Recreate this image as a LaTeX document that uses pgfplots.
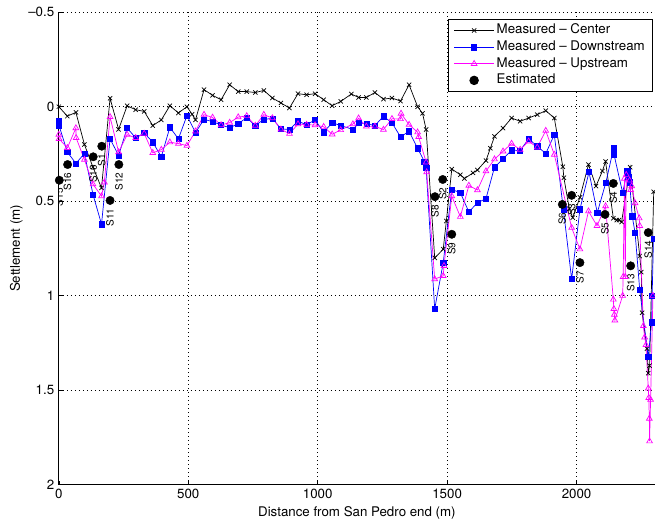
\documentclass[border=0pt]{standalone}
\usepackage{fontspec}
\setmainfont{TeX Gyre Heros}
\usepackage{pgfplots}
\usepackage{pgfplotstable}
\pgfplotsset{compat=1.18}
\definecolor{mblue}{rgb}{0,0,1}
\definecolor{mmag}{rgb}{1,0,1}

% Settlement along the alignment, measured at three lines of stations
\pgfplotstableread{
x y
0 0.00
33 0.05
66 0.03
99 0.20
132 0.32
165 0.43
198 -0.045
231 0.12
264 -0.005
297 0.016
330 0.025
363 0.10
396 0.07
429 -0.005
462 0.033
495 0.0
515 0.04
528 0.07
561 -0.09
594 -0.06
627 -0.037
660 -0.116
693 -0.08
726 -0.08
759 -0.075
792 -0.086
825 -0.046
858 -0.02
891 0.007
924 -0.069
957 -0.063
990 -0.069
1023 -0.037
1056 -0.005
1089 -0.028
1130 -0.067
1158 -0.049
1188 -0.049
1221 -0.075
1254 -0.04
1287 -0.046
1320 -0.03
1353 -0.116
1386 0.0
1405 0.035
1419 0.121
1452 0.80
1485 0.754
1497 0.605
1518 0.33
1551 0.36
1567 0.38
1600 0.35
1617 0.335
1650 0.285
1667 0.22
1683 0.157
1716 0.113
1749 0.06
1782 0.077
1815 0.06
1848 0.042
1881 0.021
1914 0.06
1947 0.318
1951 0.376
1972 0.54
1985 0.587
2013 0.48
2046 0.306
2075 0.42
2100 0.34
2112 0.29
2142 0.59
2155 0.60
2164 0.60
2174 0.61
2207 0.32
2244 0.79
2250 0.875
2253 1.09
2272 1.28
2277 1.41
2282 1.37
2298 0.45
}\center

\pgfplotstableread{
x y
0 0.077
1 0.10
33 0.24
66 0.30
99 0.248
132 0.464
165 0.622
198 0.17
231 0.258
264 0.113
297 0.165
330 0.139
363 0.188
396 0.265
429 0.109
462 0.17
495 0.047
528 0.137
561 0.067
594 0.079
627 0.097
660 0.111
693 0.09
726 0.058
759 0.10
792 0.067
825 0.062
858 0.117
891 0.121
924 0.077
957 0.095
990 0.07
1023 0.135
1056 0.085
1089 0.10
1136 0.12
1160 0.086
1188 0.09
1221 0.10
1254 0.051
1287 0.085
1320 0.16
1353 0.13
1386 0.22
1412 0.29
1419 0.325
1452 1.07
1485 0.825
1518 0.438
1551 0.455
1584 0.557
1617 0.508
1650 0.487
1683 0.32
1716 0.276
1749 0.23
1782 0.232
1815 0.17
1848 0.209
1881 0.248
1914 0.148
1949 0.543
1981 0.912
2013 0.543
2048 0.346
2080 0.561
2113 0.402
2143 0.22
2145 0.255
2178 0.455
2196 0.34
2200 0.37
2205 0.40
2215 0.58
2226 0.666
2244 0.97
2277 1.325
2290 1.14
2292 1.0
2297 0.7
}\downstream

\pgfplotstableread{
x y
0 0.148
1 0.17
33 0.218
66 0.113
67 0.165
99 0.28
132 0.41
165 0.473
176 0.40
198 0.054
231 0.24
264 0.148
297 0.165
330 0.142
363 0.244
396 0.227
429 0.188
462 0.195
495 0.206
528 0.13
561 0.042
594 0.057
627 0.097
660 0.084
693 0.055
726 0.049
759 0.10
792 0.042
825 0.06
858 0.12
891 0.143
924 0.092
957 0.095
990 0.097
1023 0.106
1056 0.146
1089 0.123
1136 0.092
1158 0.061
1188 0.104
1221 0.104
1254 0.121
1287 0.064
1320 0.065
1322 0.036
1353 0.095
1386 0.135
1390 0.16
1419 0.294
1421 0.346
1452 0.912
1485 0.895
1488 0.842
1518 0.473
1551 0.582
1584 0.417
1617 0.441
1650 0.341
1683 0.278
1716 0.236
1749 0.195
1782 0.227
1815 0.183
1848 0.215
1881 0.127
1914 0.253
1981 0.64
2013 0.754
2046 0.553
2079 0.63
2112 0.526
2142 1.02
2144 1.07
2146 1.10
2148 1.13
2178 1.0
2180 0.9
2185 0.38
2188 0.9
2192 0.36
2205 0.39
2209 0.44
2213 0.42
2226 0.51
2242 0.59
2244 0.63
2258 1.16
2263 1.22
2268 1.26
2277 1.49
2279 1.54
2281 1.65
2282 1.77
2286 1.55
2295 1.0
}\upstream

\pgfplotstableread{
x y
2 0.389
34 0.306
133 0.265
166 0.209
198 0.496
232 0.306
1453 0.476
1483 0.385
1518 0.675
1945 0.517
1981 0.469
2013 0.825
2110 0.57
2142 0.406
2209 0.842
2277 0.666
}\estimated

\newcommand{\slab}[3]{\node[rotate=90, anchor=east, inner xsep=8bp, inner ysep=0pt,
  font=\fontsize{10bp}{12bp}\selectfont] at (axis cs:#1,#2) {#3};}

\begin{document}
\fontsize{13.3bp}{16bp}\selectfont
\begin{tikzpicture}
\useasboundingbox (0,0) rectangle (655bp,523bp);
\begin{axis}[
  at={(58.8bp,38.3bp)}, anchor=south west,
  scale only axis, width=596.2bp, height=472.5bp,
  xmin=0, xmax=2303, ymin=-0.5, ymax=2, y dir=reverse,
  axis x line*=bottom, axis y line*=left,
  xtick={0,500,1000,1500,2000}, xticklabels={0,500,1000,1500,2000},
  ytick={-0.5,0,0.5,1,1.5,2}, yticklabels={–0.5,0,0.5,1,1.5,2},
  tick align=inside, major tick length=4bp,
  tick style={black, line width=0.6bp},
  grid=major,
  grid style={black, line width=0.8bp, dash pattern=on 0.8bp off 3.2bp},
  axis line style={black, line width=0.8bp},
  ticklabel style={font=\fontsize{13.3bp}{16bp}\selectfont},
  xlabel={Distance from San Pedro end (m)},
  ylabel={Settlement (m)},
  label style={font=\fontsize{13.3bp}{16bp}\selectfont},
  xlabel style={at={(axis description cs:0.5,-0.0673)}, anchor=base},
  ylabel style={at={(axis description cs:-0.0651,0.5)}, anchor=base},
  legend image code/.code={\draw[mark repeat=2, mark phase=2]
    plot coordinates {(0bp,0bp) (20bp,0bp) (40bp,0bp)};},
  legend cell align=left,
  legend style={at={(0.9966,0.985)}, anchor=north east, draw=black,
    line width=1bp, fill=white, inner xsep=5.5bp, inner ysep=2.5bp,
    row sep=0pt,
    nodes={inner xsep=2.2bp, inner ysep=2bp, text height=9.6bp, text depth=3bp,
      font=\fontsize{13.3bp}{16bp}\selectfont}},
]
\addplot[black, line width=0.7bp, mark=x, mark size=3bp,
  mark options={solid, line width=0.7bp}] table {\center};
\addlegendentry{Measured – Center}
\addplot[mblue, line width=0.7bp, mark=square*, mark size=2.6bp,
  mark options={solid, fill=mblue, line width=0.5bp}] table {\downstream};
\addlegendentry{Measured – Downstream}
\addplot[mmag, line width=0.7bp, mark=triangle, mark size=3.3bp,
  mark options={solid, line width=0.7bp}] table {\upstream};
\addlegendentry{Measured – Upstream}
\addplot[black, only marks, mark=*, mark size=4.2bp] table {\estimated};
\addlegendentry{Estimated}

\slab{2}{0.389}{S15}
\slab{34}{0.306}{S16}
\slab{133}{0.265}{S10}
\slab{166}{0.209}{S1}
\slab{198}{0.496}{S11}
\slab{232}{0.306}{S12}
\slab{1453}{0.476}{S8}
\slab{1483}{0.385}{S2}
\slab{1518}{0.675}{S9}
\slab{1945}{0.517}{S6}
\slab{1981}{0.469}{S3}
\slab{2013}{0.825}{S7}
\slab{2110}{0.57}{S5}
\slab{2142}{0.406}{S4}
\slab{2209}{0.842}{S13}
\slab{2277}{0.666}{S14}
\end{axis}
\end{tikzpicture}
\end{document}
